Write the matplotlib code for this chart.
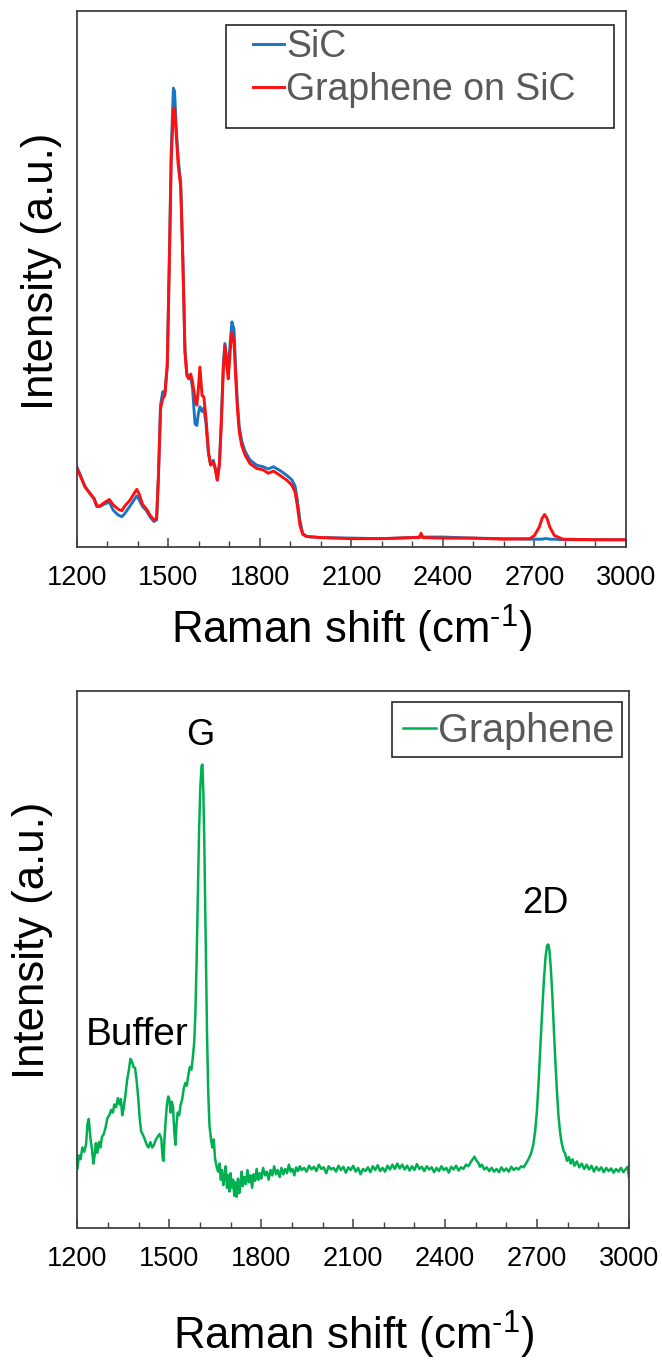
import matplotlib
matplotlib.use("Agg")
import matplotlib.pyplot as plt
from matplotlib.patches import Rectangle
from matplotlib.ticker import MultipleLocator

plt.rcParams['font.family'] = ['Liberation Sans', 'DejaVu Sans']
plt.rcParams['mathtext.fontset'] = 'custom'
plt.rcParams['mathtext.rm'] = 'Liberation Sans'
plt.rcParams['mathtext.it'] = 'Liberation Sans:italic'
plt.rcParams['mathtext.bf'] = 'Liberation Sans:bold'

# ---------------- data: top panel ----------------
shift_top = [1200, 1210, 1226, 1243, 1256, 1265, 1275, 1292, 1306, 1319, 1335, 1347, 1357,
             1374, 1387, 1396, 1404, 1415, 1428, 1439, 1452, 1461, 1467, 1474, 1481, 1488,
             1496, 1503, 1509, 1516, 1520, 1525, 1532, 1540, 1547, 1554, 1560, 1567, 1573,
             1579, 1587, 1593, 1598, 1603, 1610, 1616, 1623, 1631, 1638, 1647, 1654, 1660,
             1667, 1673, 1680, 1685, 1691, 1696, 1702, 1708, 1715, 1720, 1726, 1732, 1740,
             1751, 1767, 1789, 1811, 1827, 1844, 1866, 1888, 1904, 1915, 1922, 1931, 1940,
             1953, 2000, 2100, 2200, 2300, 2322, 2328, 2334, 2400, 2500, 2600, 2685, 2700,
             2716, 2725, 2733, 2741, 2750, 2765, 2793, 2900, 3000]
graphene_on_sic = [14.7, 13.4, 11.3, 10.0, 9.1, 7.7, 7.7, 8.4, 8.9, 7.9, 7.1, 6.8, 7.7,
                   8.8, 10.0, 10.8, 9.9, 8.0, 7.1, 6.0, 5.1, 5.4, 13.4, 25.8, 27.7, 28.3,
                   33.9, 53.7, 72.3, 81.6, 81.9, 77.3, 71.1, 67.3, 53.7, 36.4, 32.0, 31.4, 32.3,
                   30.8, 27.7, 26.5, 29.6, 33.6, 28.3, 28.0, 24.0, 17.8, 15.3, 15.9, 14.4, 12.5,
                   15.3, 22.7, 33.3, 37.6, 33.9, 31.4, 36.4, 40.1, 38.2, 32.0, 25.8, 21.5, 19.0,
                   17.2, 15.6, 14.7, 14.4, 13.8, 14.2, 13.4, 12.5, 11.6, 10.3, 7.9, 4.1, 2.4,
                   2.0, 1.8, 1.6, 1.6, 1.8, 1.8, 2.6, 1.8, 1.7, 1.7, 1.5, 1.6, 2.2,
                   3.8, 5.4, 6.1, 5.4, 3.8, 2.2, 1.5, 1.4, 1.4]
sic = [14.9, 13.6, 11.3, 10.0, 9.0, 7.6, 7.6, 8.1, 8.4, 6.9, 6.0, 5.7, 6.3,
       7.7, 8.8, 9.6, 8.8, 7.6, 6.8, 5.7, 4.8, 5.1, 13.0, 26.5, 29.0, 28.5,
       34.0, 54.5, 74.0, 85.6, 85.0, 78.5, 72.3, 68.0, 54.0, 36.8, 32.5, 31.4, 31.8,
       29.5, 23.0, 22.7, 25.0, 26.2, 25.3, 26.0, 23.0, 17.5, 15.4, 16.2, 14.6, 12.6,
       15.8, 23.5, 34.5, 38.0, 35.0, 32.5, 38.0, 42.0, 40.6, 33.5, 27.0, 22.5, 19.8,
       17.9, 16.3, 15.3, 15.0, 14.6, 15.0, 14.3, 13.4, 12.6, 11.4, 9.0, 5.0, 2.6,
       2.0, 1.8, 1.7, 1.6, 1.8, 1.9, 1.9, 1.9, 1.9, 1.7, 1.6, 1.5, 1.5,
       1.5, 1.5, 1.6, 1.6, 1.5, 1.5, 1.4, 1.4, 1.4]

# ---------------- data: bottom panel ----------------
shift_bottom = [1200, 1205, 1210, 1216, 1222, 1228, 1233, 1237, 1242, 1248, 1252, 1256, 1260,
                1265, 1270, 1275, 1280, 1286, 1292, 1298, 1304, 1310, 1316, 1320, 1326, 1332,
                1337, 1342, 1346, 1350, 1356, 1362, 1368, 1373, 1378, 1383, 1388, 1393, 1398,
                1403, 1408, 1414, 1420, 1426, 1432, 1438, 1444, 1450, 1456, 1462, 1468, 1474,
                1478, 1481, 1484, 1488, 1492, 1496, 1500, 1504, 1508, 1512, 1516, 1520, 1523,
                1527, 1532, 1537, 1542, 1547, 1552, 1557, 1562, 1567, 1572, 1577, 1581, 1585,
                1589, 1593, 1597, 1601, 1605, 1608, 1611, 1614, 1617, 1620, 1623, 1627, 1631,
                1636, 1640, 1645, 1649, 1654, 1659, 1664, 1668, 1672, 1676, 1680, 1684, 1688,
                1692, 1696, 1700, 1704, 1708, 1712, 1716, 1720, 1724, 1728, 1732, 1736, 1740,
                1745, 1750, 1755, 1760, 1765, 1770, 1775, 1780, 1785, 1790, 1795, 1800, 1806,
                1812, 1818, 1824, 1830, 1836, 1842, 1848, 1854, 1860, 1866, 1872, 1878, 1884,
                1890, 1896, 1902, 1908, 1914, 1920, 1926, 1932, 1940, 1948, 1956, 1964, 1972,
                1980, 1988, 1996, 2004, 2012, 2020, 2028, 2036, 2044, 2052, 2060, 2068, 2076,
                2084, 2092, 2100, 2108, 2116, 2124, 2132, 2140, 2148, 2156, 2164, 2172, 2180,
                2188, 2196, 2204, 2212, 2220, 2228, 2236, 2244, 2252, 2260, 2268, 2276, 2284,
                2292, 2300, 2308, 2316, 2324, 2332, 2340, 2348, 2356, 2364, 2372, 2380, 2388,
                2396, 2404, 2412, 2420, 2428, 2436, 2444, 2452, 2460, 2468, 2476, 2484, 2490,
                2496, 2502, 2508, 2514, 2520, 2528, 2536, 2544, 2552, 2560, 2568, 2576, 2584,
                2592, 2600, 2608, 2616, 2624, 2632, 2640, 2648, 2656, 2664, 2672, 2680, 2688,
                2694, 2700, 2706, 2712, 2718, 2723, 2728, 2733, 2737, 2741, 2745, 2750, 2755,
                2760, 2765, 2770, 2775, 2780, 2786, 2792, 2798, 2804, 2810, 2816, 2822, 2830,
                2838, 2846, 2854, 2862, 2870, 2878, 2886, 2894, 2902, 2910, 2918, 2926, 2934,
                2942, 2950, 2958, 2966, 2974, 2982, 2990, 2996, 3000]
graphene = [11.1, 13.5, 12.8, 15.0, 14.2, 15.5, 19.5, 20.3, 17.0, 14.3, 12.0, 13.5, 15.8,
            14.0, 16.0, 15.0, 17.0, 17.5, 18.8, 20.5, 21.0, 22.0, 21.5, 23.0, 22.5, 24.2,
            23.0, 24.0, 21.0, 22.0, 24.5, 27.5, 29.5, 31.5, 31.0, 30.0, 29.8, 27.5, 24.5,
            20.5, 18.0, 17.3, 16.5, 15.5, 15.0, 16.0, 15.0, 15.5, 16.5, 17.0, 17.5, 16.5,
            13.0, 12.5, 16.5, 20.0, 23.0, 24.5, 24.0, 21.5, 23.5, 22.5, 18.0, 15.5, 19.0,
            21.5, 21.0, 23.0, 24.0, 26.0, 27.0, 26.5, 28.5, 30.0, 29.5, 32.0, 34.5, 40.0,
            50.0, 62.0, 74.0, 82.0, 86.0, 86.3, 81.0, 72.0, 60.0, 48.0, 36.0, 25.0, 19.0,
            16.5, 15.0, 16.5, 13.0, 11.5, 10.5, 12.0, 9.0, 10.8, 8.0, 9.5, 11.5, 7.5,
            9.8, 6.8, 10.2, 7.5, 9.0, 6.0, 8.5, 5.8, 9.2, 6.5, 8.0, 10.5, 7.8,
            9.5, 8.2, 10.8, 8.5, 9.8, 7.5, 10.0, 8.8, 11.0, 9.0, 10.2, 9.2, 11.2,
            9.8, 10.5, 9.0, 10.8, 9.8, 11.5, 10.0, 10.8, 9.5, 11.2, 10.0, 11.0, 10.2,
            11.8, 10.5, 11.0, 9.8, 11.3, 10.6, 11.5, 10.8, 11.2, 10.5, 11.6, 10.9, 11.4,
            10.6, 11.8, 11.0, 11.3, 10.2, 11.5, 10.9, 11.2, 10.5, 11.6, 10.8, 11.4, 10.3,
            11.3, 10.8, 11.6, 10.5, 11.2, 10.0, 11.0, 10.6, 11.3, 10.4, 11.5, 10.8, 11.7,
            10.6, 11.2, 10.5, 11.6, 10.9, 11.8, 11.0, 12.0, 11.1, 11.8, 10.9, 11.6, 10.7,
            11.5, 10.8, 11.9, 11.0, 11.4, 10.6, 11.5, 10.9, 11.3, 10.4, 11.2, 10.6, 11.5,
            10.8, 11.2, 10.3, 11.4, 10.9, 11.6, 10.7, 11.3, 11.0, 11.8, 11.5, 12.3, 12.8,
            13.3, 12.6, 12.2, 11.4, 11.8, 10.9, 11.3, 10.6, 11.2, 10.5, 11.0, 10.4, 11.3,
            10.6, 11.1, 10.5, 11.4, 10.8, 11.2, 10.9, 11.5, 11.3, 12.0, 12.8, 13.8, 15.5,
            18.0, 22.0, 28.0, 35.0, 41.5, 46.5, 50.5, 52.6, 52.8, 51.5, 48.5, 43.5, 37.0,
            31.0, 25.5, 21.0, 18.0, 16.0, 14.5, 13.8, 12.5, 13.2, 12.0, 12.8, 11.6, 12.4,
            11.3, 12.0, 11.0, 11.8, 10.9, 11.6, 10.5, 11.4, 10.7, 11.3, 10.4, 11.2, 10.6,
            11.1, 10.3, 11.0, 10.5, 11.2, 10.4, 11.0, 11.4, 9.5]

x_ticks = [1200, 1500, 1800, 2100, 2400, 2700, 3000]
peak_labels = ["G", "2D", "Buffer"]
peak_pos = [1600, 2726, 1395]
peak_height = [90.0, 58.7, 34.0]
peak_fontsize = [26, 26, 28]

BLUE = "#1a75c4"
RED = "#ff1010"
GREEN = "#00b050"
LEG_TXT = "#595959"
SPINE = "#404040"
XLABEL = r"Raman shift (cm$^{\text{-}1}$)"

fig = plt.figure(figsize=(6.62, 13.64), dpi=100)
ax1 = fig.add_axes([0.1163, 0.5988, 0.8293, 0.3932])
ax2 = fig.add_axes([0.117, 0.0997, 0.833, 0.3937])


def style(ax):
    ax.set_xlim(1200, 3000)
    ax.set_ylim(0, 100)
    ax.set_xticks(x_ticks)
    ax.set_xticklabels([str(t) for t in x_ticks])
    ax.xaxis.set_minor_locator(MultipleLocator(100))
    ax.set_yticks([])
    ax.tick_params(axis='x', which='major', direction='in', length=6.5, width=1.1,
                   color=SPINE, labelsize=19.5, pad=13, top=False)
    ax.tick_params(axis='x', which='minor', direction='in', length=4.3, width=1.0,
                   color=SPINE, top=False)
    for s in ax.spines.values():
        s.set_color(SPINE)
        s.set_linewidth(1.3)


# top panel
style(ax1)
l1, = ax1.plot(shift_top, sic, color=BLUE, lw=2.1, label="SiC")
l2, = ax1.plot(shift_top, graphene_on_sic, color=RED, lw=2.1, label="Graphene on SiC")
ax1.set_xlabel(XLABEL, fontsize=31.5)
ax1.xaxis.set_label_coords(0.5, -0.152)
ax1.xaxis.label.set_va('center')
ax1.set_ylabel("Intensity (a.u.)", fontsize=31.5)
ax1.yaxis.set_label_coords(-0.064, 0.515)
ax1.yaxis.label.set_va('center')
ax1.add_patch(Rectangle((0.271, 0.781), 0.707, 0.193, transform=ax1.transAxes,
                        fill=False, edgecolor="#262626", lw=1.2, zorder=5))
leg1 = ax1.legend(handles=[l1, l2], loc='center left', bbox_to_anchor=(0.3206, 0.892),
                  frameon=False, fontsize=27, borderpad=0, borderaxespad=0,
                  handlelength=0.84, handletextpad=0.05, labelspacing=0.18)
for t in leg1.get_texts():
    t.set_color(LEG_TXT)

# bottom panel
style(ax2)
l3, = ax2.plot(shift_bottom, graphene, color=GREEN, lw=1.8, label="Graphene")
ax2.set_xlabel(XLABEL, fontsize=31.5)
ax2.xaxis.set_label_coords(0.5, -0.199)
ax2.xaxis.label.set_va('center')
ax2.set_ylabel("Intensity (a.u.)", fontsize=31.5)
ax2.yaxis.set_label_coords(-0.081, 0.536)
ax2.yaxis.label.set_va('center')
ax2.add_patch(Rectangle((0.570, 0.877), 0.417, 0.1025, transform=ax2.transAxes,
                        fill=False, edgecolor="#262626", lw=1.2, zorder=5))
leg2 = ax2.legend(handles=[l3], loc='center left', bbox_to_anchor=(0.590, 0.925),
                  frameon=False, fontsize=28.5, borderpad=0, borderaxespad=0,
                  handlelength=0.85, handletextpad=0.05)
for t in leg2.get_texts():
    t.set_color(LEG_TXT)

for lab, xp, yp, fs in zip(peak_labels, peak_pos, peak_height, peak_fontsize):
    ax2.text(xp, yp, lab, fontsize=fs, ha='center', va='baseline', color='black')

fig.savefig("out.png", dpi=100)
